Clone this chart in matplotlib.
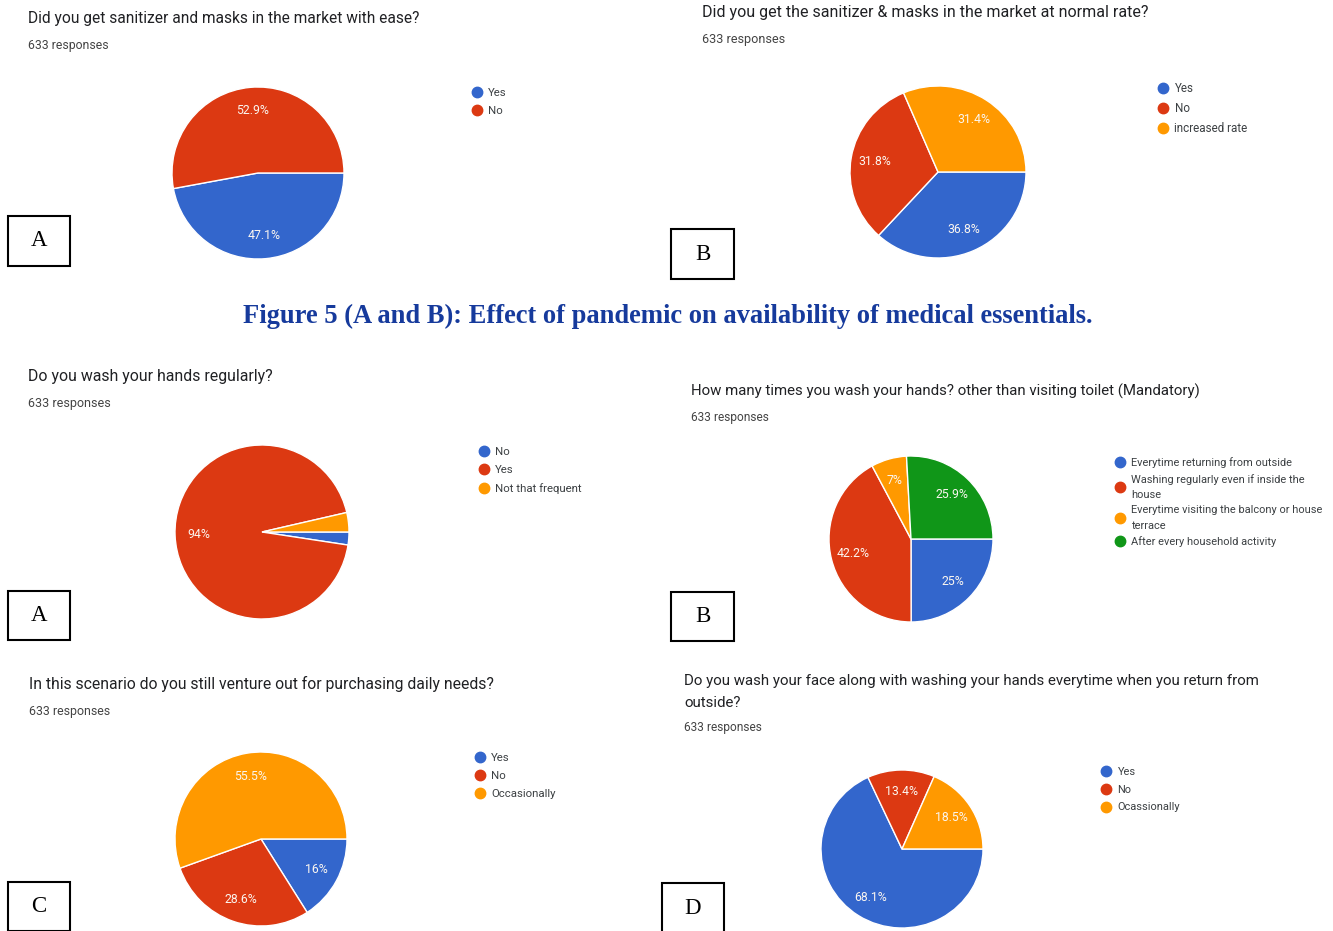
import matplotlib
matplotlib.use("Agg")
import matplotlib.pyplot as plt
from matplotlib.lines import Line2D
from matplotlib.patches import Rectangle

# google forms palette
BLUE = "#3366cc"
RED = "#dc3912"
ORANGE = "#ff9900"
GREEN = "#109618"

# survey answers (percent of 633 responses)
ease_labels = ["Yes", "No"]
ease_values = [47.1, 52.9]

rate_labels = ["Yes", "No", "increased rate"]
rate_values = [36.8, 31.8, 31.4]

wash_labels = ["No", "Yes", "Not that frequent"]
wash_values = [2.4, 94.0, 3.6]

times_labels = ["Everytime returning from outside",
                "Washing regularly even if inside the\nhouse",
                "Everytime visiting the balcony or house\nterrace",
                "After every household activity"]
times_values = [25.0, 42.2, 7.0, 25.9]

venture_labels = ["Yes", "No", "Occasionally"]
venture_values = [16.0, 28.6, 55.5]

face_labels = ["Yes", "No", "Ocassionally"]
face_values = [68.1, 13.4, 18.5]

W, H = 1333, 931
fig = plt.figure(figsize=(W / 100, H / 100), dpi=100)
fig.patch.set_facecolor("white")


def fx(x):
    return x / W


def fy(y):
    return 1 - y / H


def pct_text(p):
    if p < 5:
        return ""
    s = f"{p:.1f}".rstrip("0").rstrip(".")
    return s + "%"


def draw_pie(cx, cy, rx, ry, values, colors):
    ax = fig.add_axes([fx(cx - rx), fy(cy + ry), 2 * rx / W, 2 * ry / H])
    total = sum(values)
    # label each slice with its own answer share, not the renormalised one
    ax.pie(values, colors=colors, startangle=0, counterclock=False,
           autopct=lambda p: pct_text(p * total / 100), pctdistance=0.73,
           wedgeprops=dict(edgecolor="white", linewidth=1),
           textprops=dict(color="#fbf6f0", fontsize=8.8, family="Roboto"))
    ax.set_aspect("auto")
    ax.set_xlim(-1, 1)
    ax.set_ylim(-1, 1)
    ax.axis("off")
    return ax


def draw_legend(x, y, labels, colors, size=8.2, spacing=0.75, linespacing=1.55):
    handles = [Line2D([], [], marker="o", linestyle="", markersize=7.5,
                      markerfacecolor=c, markeredgecolor=c) for c in colors]
    leg = fig.legend(handles, labels, loc="upper left",
                     bbox_to_anchor=(fx(x), fy(y)), frameon=False,
                     prop=dict(family="Roboto", size=size),
                     handlelength=1.0, handletextpad=0.5,
                     labelspacing=spacing, borderpad=0, borderaxespad=0)
    for t in leg.get_texts():
        t.set_color("#3c4043")
        t.set_linespacing(linespacing)
    return leg


def heading(x, y, title, y_resp, size=11.4):
    fig.text(fx(x), fy(y), title, fontsize=size, family="Roboto",
             color="#202124", va="center", ha="left")
    fig.text(fx(x), fy(y_resp), "633 responses", fontsize=size * 0.79,
             family="Roboto", color="#444444", va="center", ha="left")


def tag(x0, y0, x1, y1, letter):
    fig.patches.append(Rectangle((fx(x0), fy(y1)), (x1 - x0) / W, (y1 - y0) / H,
                                 transform=fig.transFigure, fill=False,
                                 edgecolor="black", linewidth=1.5))
    fig.text(fx((x0 + x1) / 2), fy((y0 + y1) / 2), letter, fontsize=16.5,
             family="Liberation Serif", ha="center", va="center", color="black")


# row 1
heading(28, 19, "Did you get sanitizer and masks in the market with ease?", 46, size=11.2)
draw_pie(258, 173, 86, 86, ease_values, [BLUE, RED])
draw_legend(471, 88, ease_labels, [BLUE, RED], spacing=0.72)
tag(8, 216, 70, 266, "A")

heading(702, 12, "Did you get the sanitizer & masks in the market at normal rate?", 40, size=11.5)
draw_pie(938, 172, 88, 86, rate_values, [BLUE, RED, ORANGE])
draw_legend(1157, 82, rate_labels, [BLUE, RED, ORANGE], size=8.4, spacing=0.62)
tag(671, 229, 734, 279, "B")

fig.text(fx(668), fy(316),
         "Figure 5 (A and B): Effect of pandemic on availability of medical essentials.",
         fontsize=19.1, family="Liberation Serif", weight="bold", color="#163a9c",
         ha="center", va="center")

# row 2
heading(28, 377, "Do you wash your hands regularly?", 404, size=11.4)
draw_pie(262, 532, 87, 87, wash_values, [BLUE, RED, ORANGE])
draw_legend(478, 447, wash_labels, [BLUE, RED, ORANGE], spacing=0.7)
tag(8, 591, 70, 640, "A")

heading(691, 391, "How many times you wash your hands? other than visiting toilet (Mandatory)", 417,
        size=10.8)
draw_pie(911, 539, 82, 83, times_values, [BLUE, RED, ORANGE, GREEN])
draw_legend(1115, 457, times_labels, [BLUE, RED, ORANGE, GREEN], size=7.9,
            spacing=0.52, linespacing=1.65)
tag(671, 592, 734, 641, "B")

# row 3
heading(29, 684, "In this scenario do you still venture out for purchasing daily needs?", 711,
        size=11.3)
draw_pie(261, 839, 86, 87, venture_values, [BLUE, RED, ORANGE])
draw_legend(474, 753, venture_labels, [BLUE, RED, ORANGE], spacing=0.72)
tag(8, 882, 70, 931, "C")

fig.text(fx(684), fy(681),
         "Do you wash your face along with washing your hands everytime when you return from",
         fontsize=10.8, family="Roboto", color="#202124", va="center", ha="left")
heading(684, 703, "outside?", 728, size=10.8)
draw_pie(902, 849, 81, 79, face_values, [BLUE, RED, ORANGE])
draw_legend(1101, 767, face_labels, [BLUE, RED, ORANGE], size=7.9, spacing=0.7)
tag(662, 883, 724, 935, "D")

fig.savefig("out.png", dpi=100, facecolor="white")
